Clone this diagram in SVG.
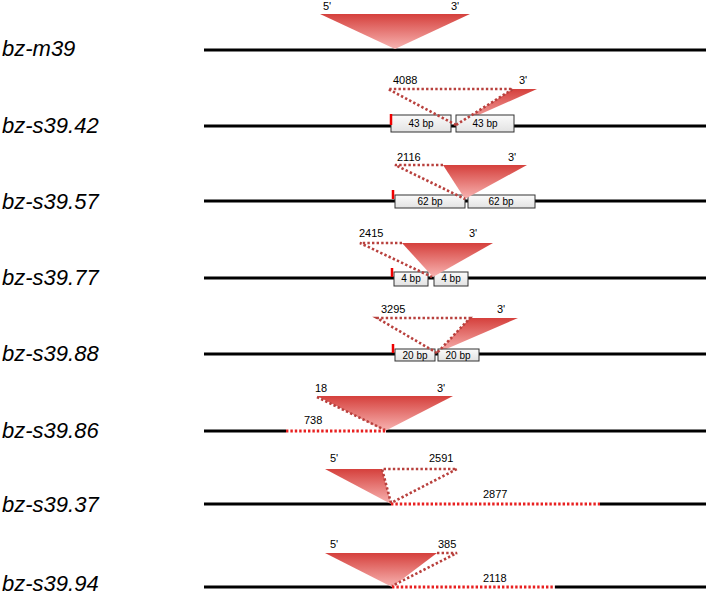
<svg xmlns="http://www.w3.org/2000/svg" width="711" height="597" viewBox="0 0 711 597">
<defs>
<linearGradient id="tri" x1="0" y1="0" x2="0" y2="1">
<stop offset="0" stop-color="#d5403c"/>
<stop offset="1" stop-color="#f8b4b2"/>
</linearGradient>
<linearGradient id="box" x1="0" y1="0" x2="0" y2="1">
<stop offset="0" stop-color="#fbfbfb"/>
<stop offset="1" stop-color="#e2e2e2"/>
</linearGradient>
</defs>
<style>
.lbl{font-family:"Liberation Sans",Arial,sans-serif;font-style:italic;font-size:22px;fill:#000}
.sm{font-family:"Liberation Sans",Arial,sans-serif;font-size:11px;fill:#000}
.bt{font-family:"Liberation Sans",Arial,sans-serif;font-size:10px;fill:#000;text-anchor:middle}
.ln{stroke:#000;stroke-width:3;fill:none}
.tri{fill:url(#tri)}
.dd{stroke:#b8403d;stroke-width:2.6;stroke-dasharray:2.4 2.2;fill:none}
.dr{stroke:#e82020;stroke-width:3;stroke-dasharray:2.4 2;fill:none}
.bx{fill:url(#box);stroke:#333;stroke-width:1}
.tk{stroke:#e00;stroke-width:2.5}
</style>

<g id="row1">
<text class="lbl" x="2" y="56">bz-m39</text>
<line class="ln" x1="204" y1="50" x2="706" y2="50"/>
<polygon class="tri" points="320,14 470,14 395,49"/>
<text class="sm" x="323" y="10">5'</text>
<text class="sm" x="451" y="10">3'</text>
</g>

<g id="row2">
<text class="lbl" x="2" y="133">bz-s39.42</text>
<line class="ln" x1="204" y1="126" x2="706" y2="126"/>
<polygon class="tri" points="513,89 537,89 456,125"/>
<rect class="bx" x="391" y="115" width="60" height="17"/>
<rect class="bx" x="456" y="115" width="58" height="17"/>
<text class="bt" x="421" y="127">43 bp</text>
<text class="bt" x="485" y="127">43 bp</text>
<line class="tk" x1="391" y1="114" x2="391" y2="125"/>
<text class="sm" x="393" y="84">4088</text>
<text class="sm" x="519" y="84">3'</text>
</g>

<g id="row3">
<text class="lbl" x="2" y="209">bz-s39.57</text>
<line class="ln" x1="204" y1="201" x2="706" y2="201"/>
<rect class="bx" x="395" y="195" width="70" height="13"/>
<rect class="bx" x="468" y="195" width="67" height="13"/>
<text class="bt" x="430" y="205">62 bp</text>
<text class="bt" x="501" y="205">62 bp</text>
<polygon class="tri" points="443,165 527,165 465,199"/>
<line class="tk" x1="393" y1="190" x2="393" y2="199"/>
<text class="sm" x="397" y="161">2116</text>
<text class="sm" x="508" y="161">3'</text>
</g>

<g id="row4">
<text class="lbl" x="2" y="285">bz-s39.77</text>
<line class="ln" x1="204" y1="278" x2="706" y2="278"/>
<rect class="bx" x="394" y="272" width="34" height="14"/>
<rect class="bx" x="434" y="272" width="34" height="14"/>
<text class="bt" x="411" y="282">4 bp</text>
<text class="bt" x="451" y="282">4 bp</text>
<polygon class="tri" points="402,243 493,243 433,277"/>
<line class="tk" x1="392" y1="268" x2="392" y2="277"/>
<text class="sm" x="359" y="237">2415</text>
<text class="sm" x="469" y="237">3'</text>
</g>

<g id="row5">
<text class="lbl" x="2" y="361">bz-s39.88</text>
<line class="ln" x1="204" y1="354" x2="706" y2="354"/>
<polygon class="tri" points="470,318 518,318 437,353"/>
<rect class="bx" x="395" y="349" width="40" height="12"/>
<rect class="bx" x="438" y="349" width="41" height="12"/>
<text class="bt" x="415" y="359">20 bp</text>
<text class="bt" x="458" y="359">20 bp</text>
<line class="tk" x1="393" y1="344" x2="393" y2="353"/>
<text class="sm" x="381" y="313">3295</text>
<text class="sm" x="497" y="313">3'</text>
</g>

<g id="row6">
<text class="lbl" x="2" y="438">bz-s39.86</text>
<line class="ln" x1="204" y1="431" x2="286" y2="431"/>
<line class="ln" x1="386" y1="431" x2="706" y2="431"/>
<polygon class="tri" points="317,396 453,396 385,431"/>
<text class="sm" x="315" y="392">18</text>
<text class="sm" x="437" y="392">3'</text>
<text class="sm" x="304" y="424">738</text>
</g>

<g id="row7">
<text class="lbl" x="2" y="512">bz-s39.37</text>
<line class="ln" x1="204" y1="504" x2="391" y2="504"/>
<line class="ln" x1="600" y1="504" x2="706" y2="504"/>
<polygon class="tri" points="325,469 382,469 391,504"/>
<text class="sm" x="330" y="462">5'</text>
<text class="sm" x="429" y="462">2591</text>
<text class="sm" x="483" y="498">2877</text>
</g>

<g id="row8">
<text class="lbl" x="2" y="591">bz-s39.94</text>
<line class="ln" x1="204" y1="587" x2="392" y2="587"/>
<line class="ln" x1="555" y1="587" x2="706" y2="587"/>
<polygon class="tri" points="325,553 437,553 392,587"/>
<text class="sm" x="330" y="548">5'</text>
<text class="sm" x="438" y="548">385</text>
<text class="sm" x="483" y="582">2118</text>
</g>

<g id="connectors">
<polyline class="dd" points="456,125 388,89 513,89 456,125"/>
<polyline class="dd" points="443,165 395,165 465,199"/>
<polyline class="dd" points="402,243 360,243 432,277"/>
<polyline class="dd" points="437,353 377,318 470,318 437,353"/>
<line class="dd" x1="317" y1="397" x2="385" y2="430"/>
<line class="dr" x1="286" y1="431" x2="386" y2="431"/>
<polyline class="dd" points="391,503 382,469 457,469 391,503"/>
<line class="dr" x1="391" y1="504" x2="600" y2="504"/>
<polyline class="dd" points="437,553 457,553 392,586"/>
<line class="dr" x1="392" y1="587" x2="555" y2="587"/>
</g>
</svg>
